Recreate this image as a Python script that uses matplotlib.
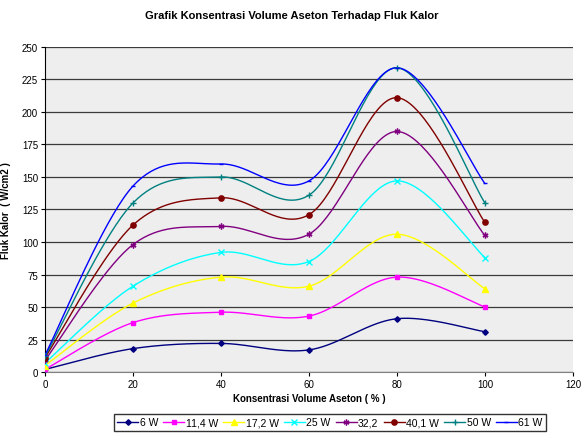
import numpy as np
import matplotlib
matplotlib.use("Agg")
import matplotlib.pyplot as plt

plt.rcParams['font.family'] = ['Liberation Sans', 'DejaVu Sans']

x_vals = [0, 20, 40, 60, 80, 100]
series_names = ["6 W", "11,4 W", "17,2 W", "25 W", "32,2", "40,1 W", "50 W", "61 W"]
s6 = [2, 18, 22, 17, 41, 31]
s11 = [2, 38, 46, 43, 73, 50]
s17 = [5, 53, 73, 66, 106, 64]
s25 = [7, 66, 92, 85, 147, 88]
s32 = [9, 98, 112, 106, 185, 105]
s40 = [11, 113, 134, 121, 211, 115]
s50 = [12, 130, 150, 136, 234, 130]
s61 = [13, 143, 160, 147, 234, 145]
series = [s6, s11, s17, s25, s32, s40, s50, s61]

colors = ["#000080", "#FF00FF", "#FFFF00", "#00FFFF", "#800080", "#800000", "#008080", "#0000FF"]
markers = ["D", "s", "^", "x", (6, 2, 0), "o", "+", "_"]
msizes = [2.8, 3.5, 3.8, 3.8, 4.2, 3.8, 4.5, 3.5]


def smooth(xs, ys, n=40):
    xs = np.asarray(xs, float); ys = np.asarray(ys, float)
    P = np.column_stack([xs, ys])
    out = [P[0]]
    for i in range(len(P) - 1):
        p0 = P[i - 1] if i > 0 else P[i]
        p1 = P[i]; p2 = P[i + 1]
        p3 = P[i + 2] if i + 2 < len(P) else P[i + 1]
        c1 = p1 + (p2 - p0) / 6.0
        c2 = p2 - (p3 - p1) / 6.0
        t = np.linspace(0, 1, n)[1:, None]
        seg = ((1 - t) ** 3) * p1 + 3 * ((1 - t) ** 2) * t * c1 + 3 * (1 - t) * t ** 2 * c2 + t ** 3 * p2
        out.extend(seg)
    out = np.array(out)
    return out[:, 0], out[:, 1]


fig = plt.figure(figsize=(5.84, 4.35), dpi=100)
ax = fig.add_axes([0.077, 0.1425, 0.904, 0.7472])
ax.set_facecolor("#EEEEEE")

for ys, name, c, m, ms in zip(series, series_names, colors, markers, msizes):
    sx, sy = smooth(x_vals, ys)
    ax.plot(sx, sy, color=c, lw=1.0, zorder=3)
    ax.plot(x_vals, ys, linestyle='none', marker=m, color=c, markersize=ms,
            markeredgewidth=1.0, zorder=4)
    ax.plot([], [], color=c, lw=1.0, marker=m, markersize=ms, markeredgewidth=1.0, label=name)

ax.set_xlim(0, 120)
ax.set_ylim(0, 250)
ax.set_xticks(range(0, 121, 20))
ax.set_yticks(range(0, 251, 25))
ax.yaxis.grid(True, color="#3a3a3a", lw=0.9)
ax.set_axisbelow(True)
for sp in ["top", "right"]:
    ax.spines[sp].set_visible(False)
ax.spines["left"].set_color("black")
ax.spines["bottom"].set_color("#808080")
ax.tick_params(axis='both', labelsize=7, length=3, width=0.8, direction='out', pad=2)

ax.set_xlabel("Konsentrasi Volume Aseton ( % )", fontsize=7, fontweight='bold', labelpad=3)
ax.set_ylabel("Fluk Kalor  ( W/cm2 )", fontsize=7, fontweight='bold', labelpad=8)
fig.suptitle("Grafik Konsentrasi Volume Aseton Terhadap Fluk Kalor", fontsize=8,
             fontweight='bold', x=0.5, y=0.975)

leg = fig.legend(loc='center', bbox_to_anchor=(0.565, 0.027), ncol=8, fontsize=7.5,
                 frameon=True, fancybox=False, edgecolor='black', handlelength=2.0,
                 handletextpad=0.15, columnspacing=0.5, borderpad=0.35, borderaxespad=0)
leg.get_frame().set_linewidth(1.0)

fig.savefig("out.png", dpi=100)
